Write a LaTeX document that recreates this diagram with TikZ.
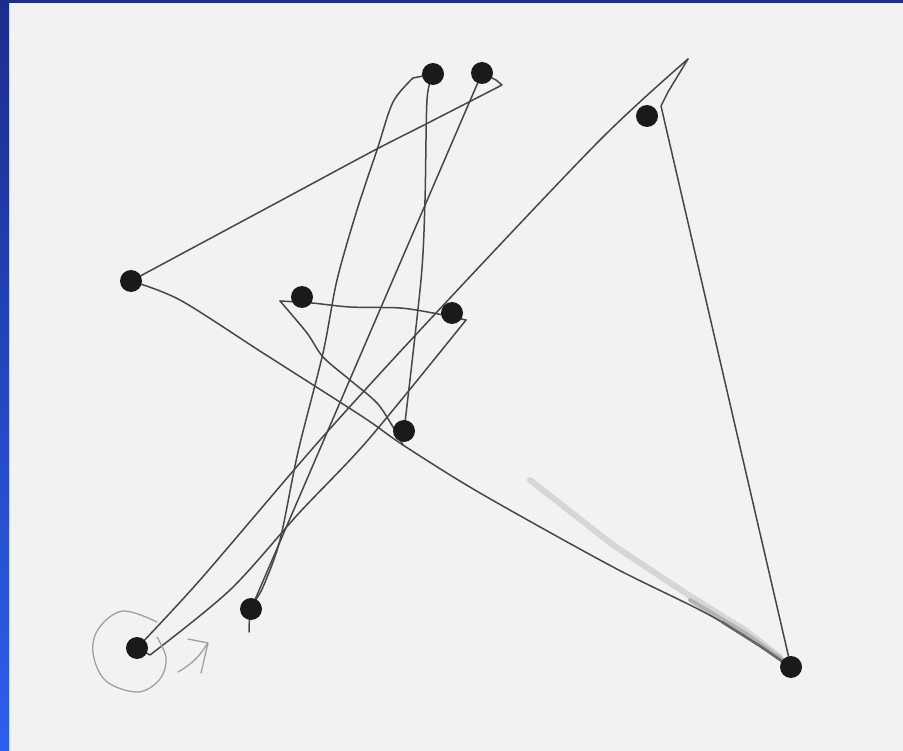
\documentclass[tikz,border=0pt]{standalone}
\pgfdeclarelayer{paperlayer}
\pgfdeclarelayer{inklayer}
\pgfsetlayers{paperlayer,inklayer,main}
\definecolor{paper}{RGB}{242,242,242}
\definecolor{ink}{RGB}{70,70,70}
\definecolor{dotc}{RGB}{26,26,26}
\definecolor{pencil}{RGB}{160,160,160}
\definecolor{smudge}{RGB}{214,214,214}
\definecolor{navy}{RGB}{27,46,140}
\definecolor{brightblue}{RGB}{45,95,240}
\begin{document}
\begin{tikzpicture}[x=1pt,y=-1pt,
  dot/.style={circle,fill=dotc,inner sep=0pt,minimum size=22pt},
  stroke/.style={draw=ink,line width=1.5pt,line cap=round,line join=round},
  pencilline/.style={draw=pencil,line width=1.3pt,line cap=round,line join=round}]
\begin{pgfonlayer}{paperlayer}
  \fill[paper] (0,0) rectangle (903,751);
  \fill[navy] (0,0) rectangle (903,3.5);
  \shade[top color=navy,bottom color=brightblue] (0,0) rectangle (9,751);
\end{pgfonlayer}
\useasboundingbox (0,0) rectangle (903,751);

% dots
\node[dot] (A) at (137,648) {};
\node[dot] (B) at (251,609) {};
\node[dot] (C) at (131,281) {};
\node[dot] (D) at (433,74) {};
\node[dot] (E) at (482,73) {};
\node[dot] (F) at (647,116) {};
\node[dot] (G) at (302,297) {};
\node[dot] (H) at (452,313) {};
\node[dot] (I) at (404,431) {};
\node[dot] (J) at (791,667) {};

% free points of the path
\coordinate (tip) at (688,59);
\coordinate (hkF) at (661,106);
\coordinate (jIC) at (403,445);
\coordinate (hkE) at (502,85);
\coordinate (hkD) at (413,78);
\coordinate (gv) at (280,301);
\coordinate (hR) at (466,320);
\coordinate (btail) at (249,632);

\begin{pgfonlayer}{inklayer}
  % faint smudge band near J
  \draw[smudge,line width=6pt,line cap=round,line join=round] (530,480) -- (613,545) -- (690,596) -- (745,630) -- (780,657);
  \draw[black!30,line width=4pt,line cap=round] (690,600) -- (745,633) -- (783,660);
  % A -> tip (past F)
  \draw[stroke] plot[smooth,tension=0.5] coordinates {(A.center) (200,580) (320,440) (436,313) (600,140) (tip)};
  % tip -> hook at F -> J
  \draw[stroke] (tip) -- (668,92) -- (hkF) -- (J.center);
  % J -> C passing under I
  \draw[stroke] plot[smooth,tension=0.5] coordinates {(J.center) (713,617) (613,567) (480,493) (jIC) (363,417) (263,353) (180,300) (C.center)};
  \draw[black!60,line width=2.6pt,line cap=round] (722,622) -- (760,646) -- (786,664);
  % C -> hook at E -> E
  \draw[stroke] plot[smooth,tension=0.5] coordinates {(C.center) (280,201) (373,151) (428,123) (hkE)} -- (496,80) -- (E.center);
  % E -> B
  \draw[stroke] (E.center) -- (B.center);
  % B -> hook at D -> D
  \draw[stroke] plot[smooth,tension=0.5] coordinates {(btail) (B.center) (263,587) (280,540) (298,452) (323,353) (337,280) (357,210) (377,150) (393,102) (hkD)} -- (D.center);
  % D -> I
  \draw[stroke] plot[smooth,tension=0.5] coordinates {(D.center) (427,100) (425,200) (421,280) (I.center)};
  % junction under I -> corner left of G
  \draw[stroke] plot[smooth,tension=0.5] coordinates {(jIC) (393,427) (377,403) (350,380) (323,357) (307,333) (gv)};
  % corner -> under G -> H
  \draw[stroke] plot[smooth,tension=0.5] coordinates {(gv) (312,303) (350,307) (400,308) (433,313) (hR)};
  % H -> A
  \draw[stroke] plot[smooth,tension=0.5] coordinates {(hR) (368,440) (300,512) (230,590) (150,655)} -- (A.center);
  % pencil circle and arrow at start
  \draw[pencilline] plot[smooth,tension=0.6] coordinates {(157,622) (123,611) (99,628) (93,653) (106,681) (138,692) (160,679) (166,658) (157,637)};
  \draw[pencilline] (178,672) .. controls (192,664) and (200,656) .. (207,644);
  \draw[pencilline] (188,639) -- (208,643) -- (201,673);
\end{pgfonlayer}
\end{tikzpicture}
\end{document}
